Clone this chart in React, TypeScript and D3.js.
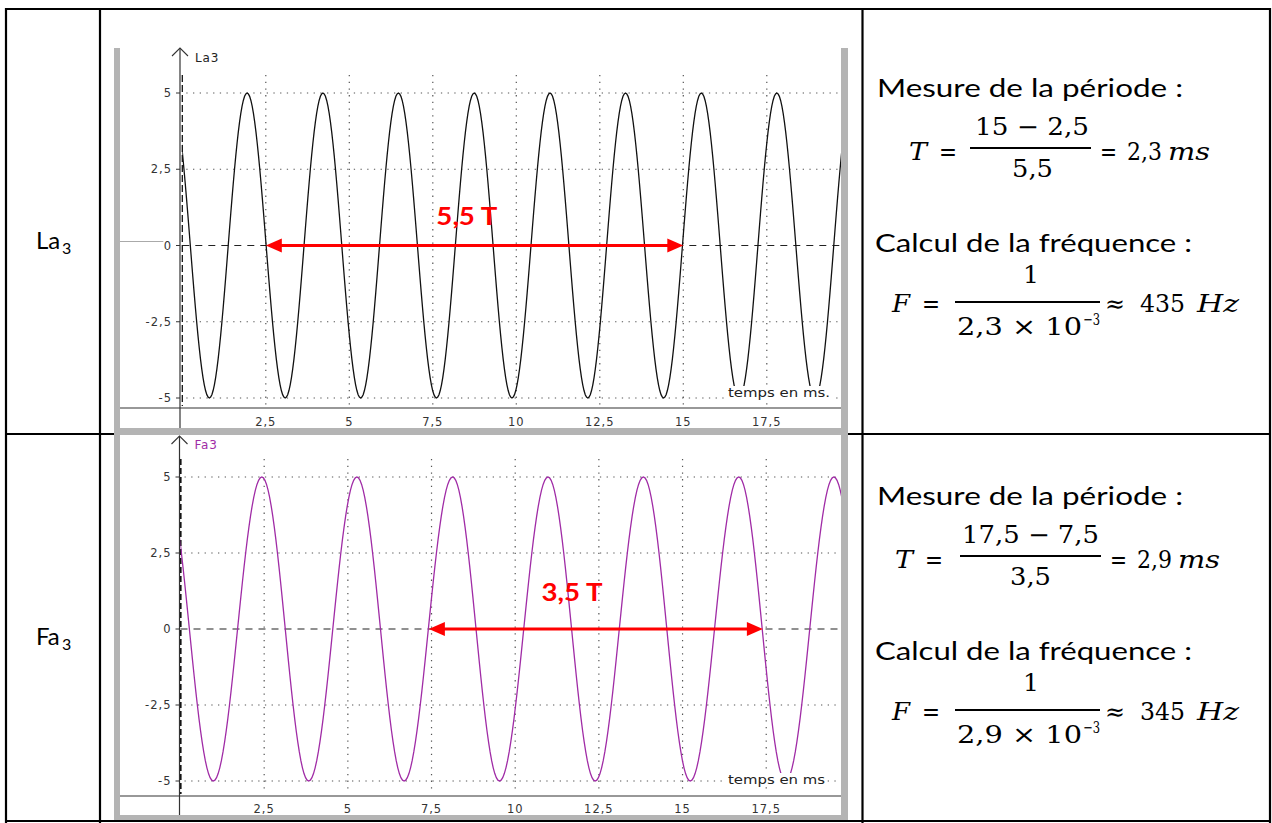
import React from 'react';
import * as d3 from 'd3';

// ---------- data ----------
const yTickValues = [5, 2.5, 0, -2.5, -5];
const yTickLabels = ['5', '2,5', '0', '-2,5', '-5'];
const xTickValues = [2.5, 5, 7.5, 10, 12.5, 15, 17.5];
const xTickLabels = ['2,5', '5', '7,5', '10', '12,5', '15', '17,5'];
const gridYValues = [5, 2.5, -2.5, -5];

const amplitude = 5;
// times (ms) of maxima / minima
const la3Peaks = [-0.33, 1.94, 4.21, 6.47, 8.74, 11.01, 13.27, 15.54, 17.8, 20.07];
const la3Troughs = [0.81, 3.08, 5.34, 7.61, 9.87, 12.14, 14.41, 16.67, 18.94];
const fa3Peaks = [-0.45, 2.43, 5.27, 8.13, 10.98, 13.83, 16.68, 19.52];
const fa3Troughs = [0.98, 3.83, 6.68, 9.53, 12.39, 15.23, 18.08, 20.95];

const la3Arrow = [2.5, 15];
const fa3Arrow = [7.42, 17.4];
const la3ArrowLabel = { t: 8.52, v: 0.67, text: '5,5 T' };
const fa3ArrowLabel = { t: 11.7, v: 0.92, text: '3,5 T' };

// ---------- helpers ----------
function buildWave(peaks: number[], troughs: number[]) {
  const ext = [
    ...peaks.map((t) => [t, amplitude]),
    ...troughs.map((t) => [t, -amplitude]),
  ].sort((a, b) => a[0] - b[0]);
  const pts: number[][] = [];
  for (let i = 0; i < ext.length - 1; i++) {
    const [t0, v0] = ext[i];
    const [t1, v1] = ext[i + 1];
    const interp = d3.interpolateNumber(v0, v1);
    const n = 30;
    for (let k = 0; k < n; k++) {
      const u = k / n;
      pts.push([t0 + (t1 - t0) * u, interp(d3.easeSinInOut(u))]);
    }
  }
  pts.push(ext[ext.length - 1]);
  return pts;
}

const GRAY = '#b4b4b4';
const AX = '#333';
const TICKFONT = "'DejaVu Sans', Verdana, sans-serif";

type ChartCfg = {
  id: string;
  frameTop: number;
  frameBottom: number;
  grayTop: boolean;
  xRange: [number, number];
  yRange: [number, number];
  axisX: number;
  xAxisY: number;
  tickLabelY: number;
  color: string;
  label: string;
  labelColor: string;
  labelY: number;
  arrowTipY: number;
  peaks: number[];
  troughs: number[];
  arrow: number[];
  arrowLabel: { t: number; v: number; text: string };
  zeroGray: boolean;
  thickDash: boolean;
  xTitle: string;
  xTitleY: number;
};

const FRAME_L = 114;
const FRAME_R = 848;
const PLOT_R = 841;

function Chart({ c }: { c: ChartCfg }) {
  const x = d3.scaleLinear().domain([0, 20]).range(c.xRange);
  const y = d3.scaleLinear().domain([-5, 5]).range(c.yRange);
  const wave = buildWave(c.peaks, c.troughs);
  const line = d3
    .line<number[]>()
    .x((d) => x(d[0]))
    .y((d) => y(d[1]));
  const gridTop = y(5) - 18;
  const x0 = x(0);
  const headL = 16;
  const headW = 7;
  const ax1 = x(c.arrow[0]);
  const ax2 = x(c.arrow[1]);
  const ay = y(0);
  const innerTop = c.grayTop ? c.frameTop + 7 : c.frameTop;
  const titleLen = c.xTitle.endsWith('.') ? 102 : 97;
  return (
    <g>
      <defs>
        <clipPath id={'clip-' + c.id}>
          <rect x={x0} y={innerTop} width={PLOT_R - x0} height={c.xAxisY - innerTop} />
        </clipPath>
      </defs>
      {/* background */}
      <rect x={FRAME_L} y={c.frameTop} width={FRAME_R - FRAME_L} height={c.frameBottom - c.frameTop} fill="#fff" />
      {/* gray frame */}
      <rect x={FRAME_L} y={c.frameTop} width={6} height={c.frameBottom - c.frameTop} fill={GRAY} />
      <rect x={PLOT_R} y={c.frameTop} width={FRAME_R - PLOT_R} height={c.frameBottom - c.frameTop} fill={GRAY} />
      <rect x={FRAME_L} y={c.frameBottom - 5} width={FRAME_R - FRAME_L} height={5} fill={GRAY} />
      {c.grayTop && <rect x={FRAME_L} y={c.frameTop} width={FRAME_R - FRAME_L} height={7} fill={GRAY} />}

      {/* dotted grid */}
      {xTickValues.map((v) => (
        <line key={'gx' + v} x1={x(v)} x2={x(v)} y1={gridTop} y2={c.xAxisY - 2} stroke="#555" strokeWidth={1.2} strokeDasharray="1.3 5.4" />
      ))}
      {gridYValues.map((v) => (
        <line key={'gy' + v} x1={x0 + 4} x2={PLOT_R} y1={y(v)} y2={y(v)} stroke="#555" strokeWidth={1.2} strokeDasharray="1.3 5.4" />
      ))}
      {/* zero dashed line */}
      <line x1={x0} x2={PLOT_R} y1={y(0)} y2={y(0)} stroke="#222" strokeWidth={1.2} strokeDasharray="7 6" />
      {c.zeroGray && <line x1={FRAME_L + 6} x2={x0 - 19} y1={y(0) - 4} y2={y(0) - 4} stroke="#aaa" strokeWidth={1} />}
      {/* dashed vertical at t=0 */}
      <line
        x1={x0}
        x2={x0}
        y1={gridTop}
        y2={c.xAxisY - 2}
        stroke="#111"
        strokeWidth={c.thickDash ? 2.2 : 1.3}
        strokeDasharray={c.thickDash ? '6 3' : '7 3'}
      />
      {/* wave */}
      <path d={line(wave) || ''} fill="none" stroke={c.color} strokeWidth={1.3} clipPath={`url(#clip-${c.id})`} />
      {/* x title with white box */}
      <rect x={727} y={c.xTitleY - 11} width={titleLen + 2} height={14} fill="#fff" />
      <text x={728} y={c.xTitleY} fontFamily={TICKFONT} fontSize={12} fill="#222" textLength={titleLen} lengthAdjust="spacingAndGlyphs">
        {c.xTitle}
      </text>
      {/* axes */}
      <line x1={FRAME_L + 6} x2={PLOT_R} y1={c.xAxisY} y2={c.xAxisY} stroke={AX} strokeWidth={1.2} />
      <line x1={c.axisX} x2={c.axisX} y1={c.arrowTipY} y2={c.frameBottom - 5} stroke={AX} strokeWidth={1.2} />
      <polyline
        points={`${c.axisX - 8},${c.arrowTipY + 8} ${c.axisX},${c.arrowTipY} ${c.axisX + 8},${c.arrowTipY + 8}`}
        fill="none"
        stroke={AX}
        strokeWidth={1.1}
      />
      <text x={c.axisX + 15} y={c.labelY} fontFamily={TICKFONT} fontSize={12} fill={c.labelColor} letterSpacing={0.8}>
        {c.label}
      </text>
      {yTickValues.map((v, i) => (
        <g key={'yt' + v}>
          <line x1={c.axisX - 4} x2={c.axisX} y1={y(v)} y2={y(v)} stroke={AX} strokeWidth={1} />
          <text x={c.axisX - 8} y={y(v)} dy="0.36em" textAnchor="end" fontFamily={TICKFONT} fontSize={11.5} fill="#333" letterSpacing={1}>
            {yTickLabels[i]}
          </text>
        </g>
      ))}
      {xTickValues.map((v, i) => (
        <text key={'xt' + v} x={x(v)} y={c.tickLabelY} textAnchor="middle" fontFamily={TICKFONT} fontSize={11.5} fill="#333" letterSpacing={1}>
          {xTickLabels[i]}
        </text>
      ))}
      {/* red double arrow */}
      <line x1={ax1 + headL - 2} x2={ax2 - headL + 2} y1={ay} y2={ay} stroke="#ff0000" strokeWidth={3} />
      <polygon points={`${ax1},${ay} ${ax1 + headL},${ay - headW} ${ax1 + headL},${ay + headW}`} fill="#ff0000" />
      <polygon points={`${ax2},${ay} ${ax2 - headL},${ay - headW} ${ax2 - headL},${ay + headW}`} fill="#ff0000" />
      <text
        x={x(c.arrowLabel.t)}
        y={y(c.arrowLabel.v)}
        textAnchor="middle"
        fontFamily="Lato, 'Open Sans', sans-serif"
        fontWeight={700}
        fontSize={25}
        fill="#ff0000"
        textLength={61}
        lengthAdjust="spacingAndGlyphs"
      >
        {c.arrowLabel.text}
      </text>
    </g>
  );
}

const charts: ChartCfg[] = [
  {
    id: 'la3',
    frameTop: 48,
    frameBottom: 433,
    grayTop: false,
    xRange: [182.3, 850.3],
    yRange: [398, 93],
    axisX: 180,
    xAxisY: 408,
    tickLabelY: 426,
    color: '#111',
    label: 'La3',
    labelColor: '#222',
    labelY: 62,
    arrowTipY: 48,
    peaks: la3Peaks,
    troughs: la3Troughs,
    arrow: la3Arrow,
    arrowLabel: la3ArrowLabel,
    zeroGray: true,
    thickDash: false,
    xTitle: 'temps en ms.',
    xTitleY: 397,
  },
  {
    id: 'fa3',
    frameTop: 428,
    frameBottom: 820,
    grayTop: true,
    xRange: [180.5, 849.9],
    yRange: [781, 477],
    axisX: 179.5,
    xAxisY: 796,
    tickLabelY: 813,
    color: '#a02ca6',
    label: 'Fa3',
    labelColor: '#a02ca6',
    labelY: 449,
    arrowTipY: 436,
    peaks: fa3Peaks,
    troughs: fa3Troughs,
    arrow: fa3Arrow,
    arrowLabel: fa3ArrowLabel,
    zeroGray: false,
    thickDash: true,
    xTitle: 'temps en ms',
    xTitleY: 784,
  },
];

const TXT = "Lato, 'Open Sans', sans-serif";
const MATH = "'DejaVu Serif', 'Liberation Serif', serif";

function Tx(p: { x: number; y: number; len?: number; size?: number; it?: boolean; f?: string; children: React.ReactNode }) {
  return (
    <text
      x={p.x}
      y={p.y}
      fontFamily={p.f || MATH}
      fontSize={p.size || 24}
      fontStyle={p.it ? 'italic' : 'normal'}
      fill="#000"
      textLength={p.len}
      lengthAdjust={p.len ? 'spacingAndGlyphs' : undefined}
    >
      {p.children}
    </text>
  );
}

function RightRow({ dy, num, den, tval, tFx, fnum, ffreq, numX, numLen, barX1, barX2, denX, eqX }: any) {
  return (
    <g>
      <Tx x={877} y={97 + dy} len={306} size={24.5} f={TXT}>Mesure de la période :</Tx>
      <Tx x={tFx} y={160 + dy} len={18} it>T</Tx>
      <Tx x={tFx + 30} y={160 + dy} len={18}>=</Tx>
      <Tx x={numX} y={135 + dy} len={numLen}>{num}</Tx>
      <line x1={barX1} x2={barX2} y1={148 + dy} y2={148 + dy} stroke="#000" strokeWidth={2} />
      <Tx x={denX} y={177 + dy} len={41}>{den}</Tx>
      <Tx x={eqX} y={160 + dy} len={17}>=</Tx>
      <Tx x={eqX + 27} y={160 + dy} len={35}>{tval}</Tx>
      <Tx x={eqX + 68} y={160 + dy} len={42} it>ms</Tx>

      <Tx x={875} y={252 + dy} len={317} size={24.5} f={TXT}>Calcul de la fréquence :</Tx>
      <Tx x={892} y={312 + dy} len={18} it>F</Tx>
      <Tx x={922} y={312 + dy} len={18}>=</Tx>
      <Tx x={1023} y={283 + dy} len={16}>1</Tx>
      <line x1={955} x2={1100} y1={302 + dy} y2={302 + dy} stroke="#000" strokeWidth={2} />
      <Tx x={957} y={335 + dy} len={125}>{fnum} × 10</Tx>
      <Tx x={1083} y={325 + dy} len={17} size={16}>−3</Tx>
      <Tx x={1105} y={312 + dy} len={20}>≈</Tx>
      <Tx x={1140} y={312 + dy} len={45}>{ffreq}</Tx>
      <Tx x={1197} y={312 + dy} len={42} it>Hz</Tx>
    </g>
  );
}

export default function App() {
  return (
    <svg width={1272} height={823} style={{ position: 'absolute', left: 0, top: 0, background: '#fff' }}>
      <rect x={0} y={0} width={1272} height={823} fill="#fff" />
      {/* table */}
      <g stroke="#000" strokeWidth={2.2}>
        <line x1={5} x2={1271} y1={9} y2={9} />
        <line x1={6} x2={6} y1={8} y2={823} />
        <line x1={1270} x2={1270} y1={8} y2={823} />
        <line x1={5} x2={1271} y1={821} y2={821} />
        <line x1={100} x2={100} y1={8} y2={823} />
        <line x1={862.5} x2={862.5} y1={8} y2={823} />
        <line x1={5} x2={1271} y1={434} y2={434} />
      </g>
      {/* left labels */}
      <text x={36} y={249} fontFamily={TXT} fontSize={24} fill="#000">La</text>
      <text x={62} y={254} fontFamily={TXT} fontSize={16} fill="#000">3</text>
      <text x={36} y={645} fontFamily={TXT} fontSize={24} fill="#000">Fa</text>
      <text x={62} y={650} fontFamily={TXT} fontSize={16} fill="#000">3</text>

      {charts.map((c) => (
        <Chart key={c.id} c={c} />
      ))}

      <RightRow dy={0} num="15 − 2,5" den="5,5" tval="2,3" tFx={909} fnum="2,3" ffreq="435" numX={975} numLen={114} barX1={970} barX2={1091} denX={1012} eqX={1100} />
      <RightRow dy={408} num="17,5 − 7,5" den="3,5" tval="2,9" tFx={895} fnum="2,9" ffreq="345" numX={962} numLen={137} barX1={960} barX2={1101} denX={1010} eqX={1110} />
    </svg>
  );
}
